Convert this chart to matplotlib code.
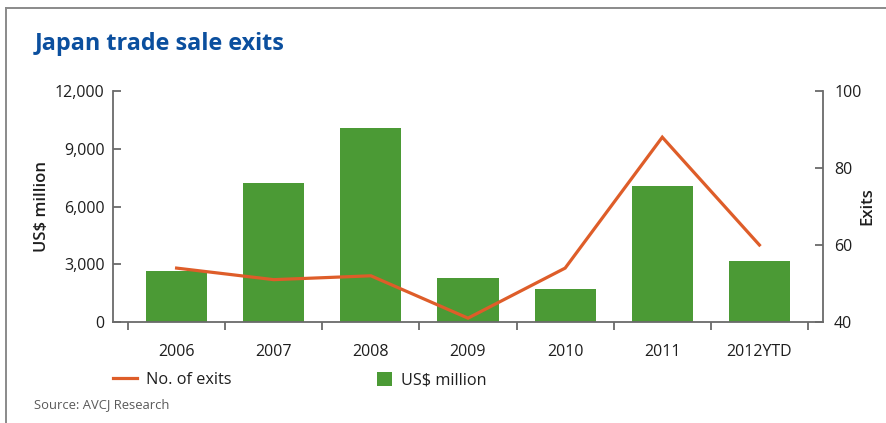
import matplotlib
matplotlib.use("Agg")
import matplotlib.pyplot as plt
from matplotlib.lines import Line2D
import numpy as np

# ---- data ----
years = ["2006", "2007", "2008", "2009", "2010", "2011", "2012YTD"]
usd_million = [2650, 7200, 10100, 2300, 1700, 7050, 3150]
exits = [54, 51, 52, 41, 54, 88, 60]
left_ticks = [0, 3000, 6000, 9000, 12000]
left_labels = ["0", "3,000", "6,000", "9,000", "12,000"]
right_ticks = [40, 60, 80, 100]

title = "Japan trade sale exits"
source = "Source: AVCJ Research"

# ---- style ----
plt.rcParams['font.family'] = ['Open Sans', 'DejaVu Sans']
GREEN = "#4b9a35"
ORANGE = "#de5d29"
BLUE = "#0b4f9e"
AXC = "#6a6a6a"
TXT = "#1e1e1e"

W, H = 886, 423
fig = plt.figure(figsize=(W / 100, H / 100), dpi=100)
fig.patch.set_facecolor("white")

ax = fig.add_axes([113 / W, 1 - 322 / H, 710 / W, 231 / H])
ax2 = ax.twinx()

x = np.arange(len(years))
bars = ax.bar(x, usd_million, width=0.63, color=GREEN, zorder=2, label="US$ million")
line, = ax2.plot(x, exits, color=ORANGE, lw=2.3, solid_joinstyle="miter", label="No. of exits")

ext = 15 / 97
ax.set_xlim(-0.5 - ext, len(years) - 0.5 + ext)
ax.set_ylim(0, 12000)
ax2.set_ylim(40, 100)

# spines
for a in (ax, ax2):
    a.spines['top'].set_visible(False)
    for s in ('left', 'right', 'bottom'):
        a.spines[s].set_color(AXC)
        a.spines[s].set_linewidth(1.3)
ax.spines['right'].set_visible(False)
ax2.spines['left'].set_visible(False)
ax2.spines['bottom'].set_visible(False)

# left ticks
ax.set_yticks(left_ticks)
ax.set_yticklabels(left_labels)
ax.tick_params(axis='y', direction='in', length=6, width=1.3, color=AXC,
               labelsize=11.5, labelcolor=TXT, pad=6)
# right ticks
ax2.set_yticks(right_ticks)
ax2.tick_params(axis='y', direction='in', length=6, width=1.3, color=AXC,
                labelsize=11.5, labelcolor=TXT, pad=8)

# x ticks: labels at centers, ticks at boundaries
ax.set_xticks(x)
ax.set_xticklabels(years)
ax.set_xticks(np.arange(-0.5, len(years), 1.0), minor=True)
ax.tick_params(axis='x', which='major', length=0, labelsize=11.5, labelcolor=TXT, pad=16)
ax.tick_params(axis='x', which='minor', direction='out', length=6, width=1.3, color=AXC)

# axis labels
fig.text(42 / W, 1 - 207 / H, "US$ million", rotation=90, ha='center', va='center',
         fontsize=12, fontweight='semibold', color=TXT)
fig.text(867 / W, 1 - 206 / H, "Exits", rotation=90, ha='center', va='center',
         fontsize=12, fontweight='semibold', color=TXT)

# title and source
fig.text(35 / W, 1 - 44 / H, title, ha='left', va='center', fontsize=16.8,
         fontweight='bold', color=BLUE)
fig.text(34 / W, 1 - 405 / H, source, ha='left', va='center', fontsize=9.4,
         color="#5a5a5a")

# legends
leg1 = fig.legend(handles=[line], loc='center left', bbox_to_anchor=(113 / W, 1 - 380 / H),
                  frameon=False, fontsize=11.7, handlelength=1.5, handletextpad=0.5,
                  borderpad=0, borderaxespad=0)
for t in leg1.get_texts():
    t.set_color(TXT)
leg2 = fig.legend(handles=[bars], loc='center left', bbox_to_anchor=(377 / W, 1 - 380 / H),
                  frameon=False, fontsize=11.7, handlelength=0.95, handleheight=0.95,
                  handletextpad=0.5, borderpad=0, borderaxespad=0)
for t in leg2.get_texts():
    t.set_color(TXT)

# frame border (top and left)
fig.add_artist(Line2D([6 / W, 1.0], [1 - 8 / H, 1 - 8 / H], transform=fig.transFigure,
                      color="#8a8a8a", lw=1.4))
fig.add_artist(Line2D([6 / W, 6 / W], [0, 1 - 8 / H], transform=fig.transFigure,
                      color="#8a8a8a", lw=1.4))

fig.savefig("out.png", dpi=100, facecolor="white")
